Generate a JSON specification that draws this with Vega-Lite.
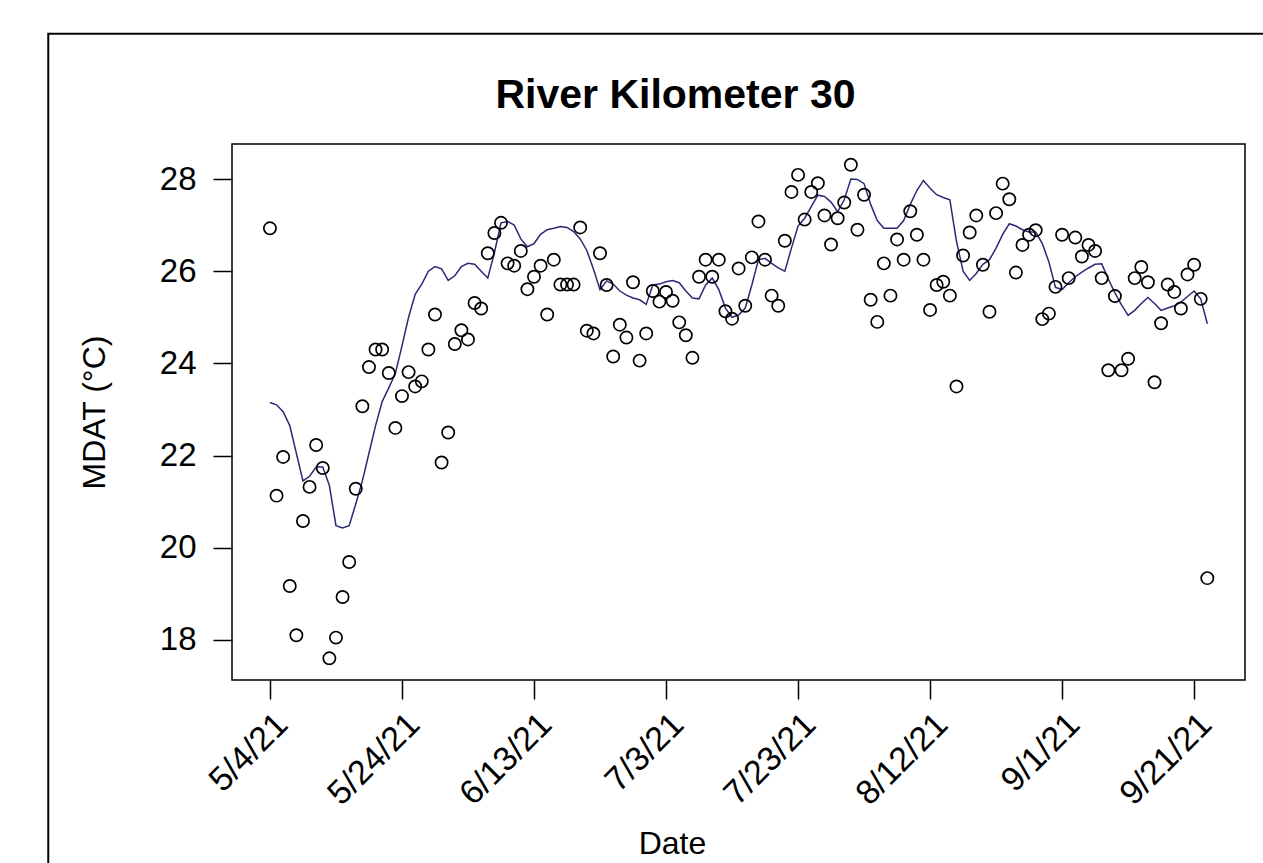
{
  "$schema": "https://vega.github.io/schema/vega-lite/v6.json",
  "width": 1013,
  "height": 536,
  "autosize": "none",
  "padding": {"left": 232, "top": 144, "right": 18, "bottom": 183},
  "background": "white",
  "config": {
    "view": {"stroke": "black", "strokeWidth": 1.5},
    "font": "Liberation Sans"
  },
  "title": {
    "text": "River Kilometer 30",
    "font": "Liberation Sans",
    "fontSize": 41,
    "fontWeight": "bold",
    "color": "black",
    "anchor": "middle",
    "frame": "group",
    "dx": -63,
    "dy": 150,
    "baseline": "alphabetic",
    "offset": 34
  },
  "data": {
    "values": [
      {"date": "2021-05-04", "mdat": 26.93, "avg": 23.15},
      {"date": "2021-05-05", "mdat": 21.13, "avg": 23.1},
      {"date": "2021-05-06", "mdat": 21.97, "avg": 22.95},
      {"date": "2021-05-07", "mdat": 19.17, "avg": 22.65},
      {"date": "2021-05-08", "mdat": 18.1, "avg": 22.05},
      {"date": "2021-05-09", "mdat": 20.58, "avg": 21.45},
      {"date": "2021-05-10", "mdat": 21.32, "avg": 21.55},
      {"date": "2021-05-11", "mdat": 22.23, "avg": 21.75},
      {"date": "2021-05-12", "mdat": 21.73, "avg": 21.75},
      {"date": "2021-05-13", "mdat": 17.6, "avg": 21.35},
      {"date": "2021-05-14", "mdat": 18.05, "avg": 20.48},
      {"date": "2021-05-15", "mdat": 18.93, "avg": 20.43},
      {"date": "2021-05-16", "mdat": 19.69, "avg": 20.48},
      {"date": "2021-05-17", "mdat": 21.28, "avg": 20.95},
      {"date": "2021-05-18", "mdat": 23.07, "avg": 21.45},
      {"date": "2021-05-19", "mdat": 23.92, "avg": 22.05},
      {"date": "2021-05-20", "mdat": 24.3, "avg": 22.65},
      {"date": "2021-05-21", "mdat": 24.3, "avg": 23.17},
      {"date": "2021-05-22", "mdat": 23.79, "avg": 23.47},
      {"date": "2021-05-23", "mdat": 22.6, "avg": 23.78},
      {"date": "2021-05-24", "mdat": 23.29, "avg": 24.38},
      {"date": "2021-05-25", "mdat": 23.81, "avg": 25.0},
      {"date": "2021-05-26", "mdat": 23.5, "avg": 25.5},
      {"date": "2021-05-27", "mdat": 23.61, "avg": 25.72},
      {"date": "2021-05-28", "mdat": 24.3, "avg": 26.0},
      {"date": "2021-05-29", "mdat": 25.06, "avg": 26.1},
      {"date": "2021-05-30", "mdat": 21.85, "avg": 26.05},
      {"date": "2021-05-31", "mdat": 22.5, "avg": 25.8},
      {"date": "2021-06-01", "mdat": 24.42, "avg": 25.9},
      {"date": "2021-06-02", "mdat": 24.72, "avg": 26.1},
      {"date": "2021-06-03", "mdat": 24.52, "avg": 26.17},
      {"date": "2021-06-04", "mdat": 25.31, "avg": 26.15},
      {"date": "2021-06-05", "mdat": 25.19, "avg": 26.0},
      {"date": "2021-06-06", "mdat": 26.39, "avg": 25.85},
      {"date": "2021-06-07", "mdat": 26.83, "avg": 26.4},
      {"date": "2021-06-08", "mdat": 27.05, "avg": 27.05},
      {"date": "2021-06-09", "mdat": 26.17, "avg": 27.08},
      {"date": "2021-06-10", "mdat": 26.12, "avg": 27.0},
      {"date": "2021-06-11", "mdat": 26.44, "avg": 26.7},
      {"date": "2021-06-12", "mdat": 25.61, "avg": 26.53},
      {"date": "2021-06-13", "mdat": 25.88, "avg": 26.6},
      {"date": "2021-06-14", "mdat": 26.12, "avg": 26.8},
      {"date": "2021-06-15", "mdat": 25.06, "avg": 26.9},
      {"date": "2021-06-16", "mdat": 26.25, "avg": 26.93},
      {"date": "2021-06-17", "mdat": 25.71, "avg": 26.97},
      {"date": "2021-06-18", "mdat": 25.71, "avg": 26.95},
      {"date": "2021-06-19", "mdat": 25.71, "avg": 26.86},
      {"date": "2021-06-20", "mdat": 26.95, "avg": 26.7},
      {"date": "2021-06-21", "mdat": 24.71, "avg": 26.45},
      {"date": "2021-06-22", "mdat": 24.65, "avg": 26.05},
      {"date": "2021-06-23", "mdat": 26.39, "avg": 25.6},
      {"date": "2021-06-24", "mdat": 25.7, "avg": 25.79},
      {"date": "2021-06-25", "mdat": 24.15, "avg": 25.72},
      {"date": "2021-06-26", "mdat": 24.84, "avg": 25.57},
      {"date": "2021-06-27", "mdat": 24.56, "avg": 25.48},
      {"date": "2021-06-28", "mdat": 25.76, "avg": 25.42},
      {"date": "2021-06-29", "mdat": 24.06, "avg": 25.38},
      {"date": "2021-06-30", "mdat": 24.65, "avg": 25.28},
      {"date": "2021-07-01", "mdat": 25.57, "avg": 25.7},
      {"date": "2021-07-02", "mdat": 25.34, "avg": 25.72},
      {"date": "2021-07-03", "mdat": 25.55, "avg": 25.77},
      {"date": "2021-07-04", "mdat": 25.36, "avg": 25.8},
      {"date": "2021-07-05", "mdat": 24.89, "avg": 25.75},
      {"date": "2021-07-06", "mdat": 24.61, "avg": 25.57},
      {"date": "2021-07-07", "mdat": 24.12, "avg": 25.42},
      {"date": "2021-07-08", "mdat": 25.88, "avg": 25.4},
      {"date": "2021-07-09", "mdat": 26.25, "avg": 25.7},
      {"date": "2021-07-10", "mdat": 25.88, "avg": 25.85},
      {"date": "2021-07-11", "mdat": 26.25, "avg": 25.6},
      {"date": "2021-07-12", "mdat": 25.13, "avg": 25.2},
      {"date": "2021-07-13", "mdat": 24.97, "avg": 25.0},
      {"date": "2021-07-14", "mdat": 26.06, "avg": 25.05},
      {"date": "2021-07-15", "mdat": 25.25, "avg": 25.2},
      {"date": "2021-07-16", "mdat": 26.3, "avg": 25.7},
      {"date": "2021-07-17", "mdat": 27.08, "avg": 26.25},
      {"date": "2021-07-18", "mdat": 26.25, "avg": 26.28},
      {"date": "2021-07-19", "mdat": 25.47, "avg": 26.17},
      {"date": "2021-07-20", "mdat": 25.25, "avg": 26.07},
      {"date": "2021-07-21", "mdat": 26.66, "avg": 26.0},
      {"date": "2021-07-22", "mdat": 27.72, "avg": 26.5},
      {"date": "2021-07-23", "mdat": 28.09, "avg": 26.98},
      {"date": "2021-07-24", "mdat": 27.12, "avg": 27.15},
      {"date": "2021-07-25", "mdat": 27.72, "avg": 27.4},
      {"date": "2021-07-26", "mdat": 27.91, "avg": 27.65},
      {"date": "2021-07-27", "mdat": 27.21, "avg": 27.62},
      {"date": "2021-07-28", "mdat": 26.58, "avg": 27.5},
      {"date": "2021-07-29", "mdat": 27.15, "avg": 27.29},
      {"date": "2021-07-30", "mdat": 27.49, "avg": 27.55},
      {"date": "2021-07-31", "mdat": 28.31, "avg": 28.0},
      {"date": "2021-08-01", "mdat": 26.9, "avg": 27.99},
      {"date": "2021-08-02", "mdat": 27.66, "avg": 27.9},
      {"date": "2021-08-03", "mdat": 25.38, "avg": 27.45},
      {"date": "2021-08-04", "mdat": 24.9, "avg": 27.1},
      {"date": "2021-08-05", "mdat": 26.17, "avg": 26.93},
      {"date": "2021-08-06", "mdat": 25.47, "avg": 26.93},
      {"date": "2021-08-07", "mdat": 26.69, "avg": 26.93},
      {"date": "2021-08-08", "mdat": 26.25, "avg": 27.1},
      {"date": "2021-08-09", "mdat": 27.3, "avg": 27.45},
      {"date": "2021-08-10", "mdat": 26.79, "avg": 27.75},
      {"date": "2021-08-11", "mdat": 26.25, "avg": 27.97},
      {"date": "2021-08-12", "mdat": 25.16, "avg": 27.8},
      {"date": "2021-08-13", "mdat": 25.7, "avg": 27.66},
      {"date": "2021-08-14", "mdat": 25.77, "avg": 27.6},
      {"date": "2021-08-15", "mdat": 25.47, "avg": 27.55},
      {"date": "2021-08-16", "mdat": 23.5, "avg": 26.65},
      {"date": "2021-08-17", "mdat": 26.34, "avg": 26.0},
      {"date": "2021-08-18", "mdat": 26.84, "avg": 25.8},
      {"date": "2021-08-19", "mdat": 27.21, "avg": 25.95},
      {"date": "2021-08-20", "mdat": 26.14, "avg": 26.15},
      {"date": "2021-08-21", "mdat": 25.12, "avg": 26.25},
      {"date": "2021-08-22", "mdat": 27.26, "avg": 26.5},
      {"date": "2021-08-23", "mdat": 27.9, "avg": 26.8},
      {"date": "2021-08-24", "mdat": 27.56, "avg": 27.03},
      {"date": "2021-08-25", "mdat": 25.97, "avg": 26.98},
      {"date": "2021-08-26", "mdat": 26.57, "avg": 26.9},
      {"date": "2021-08-27", "mdat": 26.79, "avg": 26.85},
      {"date": "2021-08-28", "mdat": 26.89, "avg": 26.85},
      {"date": "2021-08-29", "mdat": 24.96, "avg": 26.6},
      {"date": "2021-08-30", "mdat": 25.08, "avg": 26.2},
      {"date": "2021-08-31", "mdat": 25.66, "avg": 25.65},
      {"date": "2021-09-01", "mdat": 26.79, "avg": 25.6},
      {"date": "2021-09-02", "mdat": 25.85, "avg": 25.75},
      {"date": "2021-09-03", "mdat": 26.73, "avg": 25.88},
      {"date": "2021-09-04", "mdat": 26.32, "avg": 25.98},
      {"date": "2021-09-05", "mdat": 26.57, "avg": 26.07},
      {"date": "2021-09-06", "mdat": 26.44, "avg": 26.15},
      {"date": "2021-09-07", "mdat": 25.85, "avg": 26.16},
      {"date": "2021-09-08", "mdat": 23.85, "avg": 25.83},
      {"date": "2021-09-09", "mdat": 25.46, "avg": 25.53},
      {"date": "2021-09-10", "mdat": 23.85, "avg": 25.27},
      {"date": "2021-09-11", "mdat": 24.1, "avg": 25.04},
      {"date": "2021-09-12", "mdat": 25.85, "avg": 25.15},
      {"date": "2021-09-13", "mdat": 26.09, "avg": 25.3},
      {"date": "2021-09-14", "mdat": 25.76, "avg": 25.43},
      {"date": "2021-09-15", "mdat": 23.59, "avg": 25.3},
      {"date": "2021-09-16", "mdat": 24.87, "avg": 25.15},
      {"date": "2021-09-17", "mdat": 25.71, "avg": 25.2},
      {"date": "2021-09-18", "mdat": 25.55, "avg": 25.25},
      {"date": "2021-09-19", "mdat": 25.19, "avg": 25.33},
      {"date": "2021-09-20", "mdat": 25.93, "avg": 25.45},
      {"date": "2021-09-21", "mdat": 26.14, "avg": 25.57},
      {"date": "2021-09-22", "mdat": 25.4, "avg": 25.4},
      {"date": "2021-09-23", "mdat": 19.34, "avg": 24.86}
    ]
  },
  "layer": [
    {
      "mark": {"type": "line", "color": "#2a2a78", "strokeWidth": 1.5},
      "encoding": {
        "x": {
          "field": "date",
          "type": "temporal",
          "scale": {
            "type": "utc",
            "domain": [
              {"year": 2021, "month": 4, "date": 28, "hours": 6, "utc": true},
              {"year": 2021, "month": 9, "date": 28, "hours": 17, "utc": true}
            ]
          },
          "axis": {
            "values": [
              {"year": 2021, "month": 5, "date": 4, "utc": true},
              {"year": 2021, "month": 5, "date": 24, "utc": true},
              {"year": 2021, "month": 6, "date": 13, "utc": true},
              {"year": 2021, "month": 7, "date": 3, "utc": true},
              {"year": 2021, "month": 7, "date": 23, "utc": true},
              {"year": 2021, "month": 8, "date": 12, "utc": true},
              {"year": 2021, "month": 9, "date": 1, "utc": true},
              {"year": 2021, "month": 9, "date": 21, "utc": true}
            ],
            "format": "%-m/%-d/%y",
            "domain": false,
            "grid": false,
            "tickSize": 19,
            "tickWidth": 1.5,
            "tickColor": "black",
            "labelAngle": -45,
            "labelAlign": "right",
            "labelBaseline": "top",
            "labelFontSize": 34,
            "labelColor": "black",
            "labelPadding": 8,
            "labelFlush": false,
            "labelOverlap": false,
            "title": "Date",
            "titleFontSize": 32,
            "titleFontWeight": "normal",
            "titleColor": "black",
            "titleAlign": "center",
            "titleBaseline": "alphabetic",
            "titleX": 440,
            "titleY": 173
          }
        },
        "y": {
          "field": "avg",
          "type": "quantitative",
          "scale": {"domain": [17.13, 28.76], "nice": false, "zero": false},
          "axis": {
            "values": [18, 20, 22, 24, 26, 28],
            "domain": false,
            "grid": false,
            "tickSize": 19,
            "tickWidth": 1.5,
            "tickColor": "black",
            "labelFontSize": 33,
            "labelColor": "black",
            "labelPadding": 17,
            "title": "MDAT (°C)",
            "titleFontSize": 32,
            "titleFontWeight": "normal",
            "titleColor": "black",
            "titleAngle": -90,
            "titleAlign": "center",
            "titleBaseline": "alphabetic",
            "titleX": -128,
            "titleY": 268
          }
        }
      }
    },
    {
      "mark": {"type": "point", "shape": "circle", "filled": false, "color": "black", "size": 150, "strokeWidth": 1.7, "opacity": 1},
      "encoding": {
        "x": {
          "field": "date",
          "type": "temporal",
          "scale": {
            "type": "utc",
            "domain": [
              {"year": 2021, "month": 4, "date": 28, "hours": 6, "utc": true},
              {"year": 2021, "month": 9, "date": 28, "hours": 17, "utc": true}
            ]
          },
          "axis": {
            "values": [
              {"year": 2021, "month": 5, "date": 4, "utc": true},
              {"year": 2021, "month": 5, "date": 24, "utc": true},
              {"year": 2021, "month": 6, "date": 13, "utc": true},
              {"year": 2021, "month": 7, "date": 3, "utc": true},
              {"year": 2021, "month": 7, "date": 23, "utc": true},
              {"year": 2021, "month": 8, "date": 12, "utc": true},
              {"year": 2021, "month": 9, "date": 1, "utc": true},
              {"year": 2021, "month": 9, "date": 21, "utc": true}
            ],
            "format": "%-m/%-d/%y",
            "domain": false,
            "grid": false,
            "tickSize": 19,
            "tickWidth": 1.5,
            "tickColor": "black",
            "labelAngle": -45,
            "labelAlign": "right",
            "labelBaseline": "top",
            "labelFontSize": 34,
            "labelColor": "black",
            "labelPadding": 8,
            "labelFlush": false,
            "labelOverlap": false,
            "title": "Date",
            "titleFontSize": 32,
            "titleFontWeight": "normal",
            "titleColor": "black",
            "titleAlign": "center",
            "titleBaseline": "alphabetic",
            "titleX": 440,
            "titleY": 173
          }
        },
        "y": {
          "field": "mdat",
          "type": "quantitative",
          "scale": {"domain": [17.13, 28.76], "nice": false, "zero": false},
          "axis": {
            "values": [18, 20, 22, 24, 26, 28],
            "domain": false,
            "grid": false,
            "tickSize": 19,
            "tickWidth": 1.5,
            "tickColor": "black",
            "labelFontSize": 33,
            "labelColor": "black",
            "labelPadding": 17,
            "title": "MDAT (°C)",
            "titleFontSize": 32,
            "titleFontWeight": "normal",
            "titleColor": "black",
            "titleAngle": -90,
            "titleAlign": "center",
            "titleBaseline": "alphabetic",
            "titleX": -128,
            "titleY": 268
          }
        }
      }
    },
    {
      "data": {"values": [{"part": "outer frame"}]},
      "mark": {"type": "rect", "fill": "transparent", "stroke": "black", "strokeWidth": 2, "clip": false},
      "encoding": {
        "x": {"datum": {"year": 2021, "month": 3, "date": 31, "hours": 10, "utc": true}, "type": "temporal"},
        "x2": {"datum": {"year": 2021, "month": 11, "date": 1, "utc": true}},
        "y": {"datum": 31.15, "type": "quantitative"},
        "y2": {"datum": 5}
      }
    }
  ]
}
